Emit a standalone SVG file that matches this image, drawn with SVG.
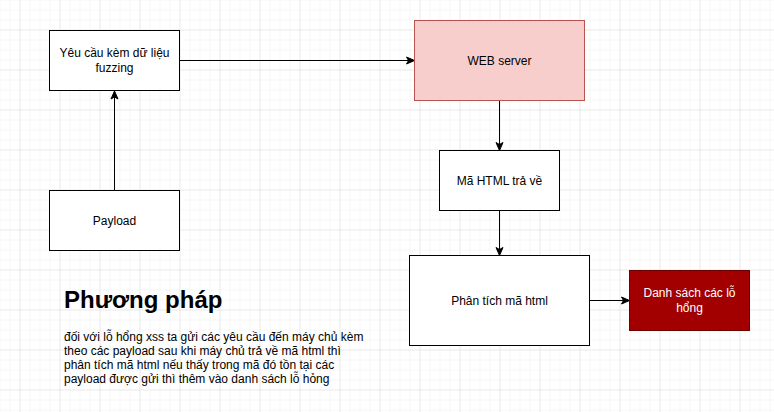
<svg xmlns="http://www.w3.org/2000/svg" width="774" height="412" viewBox="0 0 774 412">
<defs>
<pattern id="minor" x="9.5" y="9.5" width="10" height="10" patternUnits="userSpaceOnUse">
<path d="M0 0H10M0 0V10" fill="none" stroke="#f0f0f0" stroke-width="1"/>
</pattern>
<pattern id="major" x="19.5" y="29.5" width="40" height="40" patternUnits="userSpaceOnUse">
<path d="M0 0H40M0 0V40" fill="none" stroke="#e0e0e0" stroke-width="1"/>
</pattern>
<marker id="arr" markerWidth="10" markerHeight="10" refX="9" refY="5" orient="auto" markerUnits="userSpaceOnUse">
<path d="M1 1.5L9 5L1 8.5L3 5Z" fill="#000" stroke="#000" stroke-width="1"/>
</marker>
</defs>
<style>
.box{fill:#fff;stroke:#000;stroke-width:1}
.lbl{font-family:"Liberation Sans",Arial,sans-serif;font-size:12px;fill:#000;text-anchor:middle}
.edge{fill:none;stroke:#000;stroke-width:1;marker-end:url(#arr)}
.body{font-family:"Liberation Sans",Arial,sans-serif;font-size:12px;fill:#000}
</style>
<rect width="774" height="412" fill="#fff"/>
<rect width="774" height="412" fill="url(#minor)"/>
<rect width="774" height="412" fill="url(#major)"/>
<g id="connectors">
<path class="edge" d="M179.5 60.5H414.5"/>
<path class="edge" d="M114.5 190.5V91"/>
<path class="edge" d="M499.5 100.5V150.5"/>
<path class="edge" d="M499.5 210.5V255.5"/>
<path class="edge" d="M589.5 300.5H629.5"/>
</g>
<g id="node-request">
<rect class="box" x="49.5" y="30.5" width="130" height="60"/>
<text class="lbl" x="114.5" y="57">Yêu cầu kèm dữ liệu</text>
<text class="lbl" x="114.5" y="72">fuzzing</text>
</g>
<g id="node-web">
<rect x="414.5" y="20.5" width="170" height="80" fill="#f8cecc" stroke="#b85450"/>
<text class="lbl" x="499.5" y="65">WEB server</text>
</g>
<g id="node-html">
<rect class="box" x="439.5" y="150.5" width="120" height="60"/>
<text class="lbl" x="499.5" y="185">Mã HTML trả về</text>
</g>
<g id="node-payload">
<rect class="box" x="49.5" y="190.5" width="130" height="60"/>
<text class="lbl" x="114.5" y="225">Payload</text>
</g>
<g id="node-analyze">
<rect class="box" x="409.5" y="255.5" width="180" height="90"/>
<text class="lbl" x="499.5" y="305">Phân tích mã html</text>
</g>
<g id="node-list">
<rect x="629.5" y="270.5" width="120" height="60" fill="#a20000" stroke="#6f0000"/>
<text class="lbl" x="689.5" y="297" style="fill:#fff">Danh sách các lỗ</text>
<text class="lbl" x="689.5" y="312" style="fill:#fff">hổng</text>
</g>
<g id="note">
<text x="64" y="308" style="font-family:'Liberation Sans',Arial,sans-serif;font-size:24px;font-weight:bold;fill:#000">Phương pháp</text>
<text class="body" x="64" y="341">đối với lỗ hổng xss ta gửi các yêu cầu đến máy chủ kèm</text>
<text class="body" x="64" y="355">theo các payload sau khi máy chủ trả về mã html thì</text>
<text class="body" x="64" y="369">phân tích mã html nếu thấy trong mã đó tồn tại các</text>
<text class="body" x="64" y="383">payload được gửi thì thêm vào danh sách lỗ hỏng</text>
</g>
</svg>
